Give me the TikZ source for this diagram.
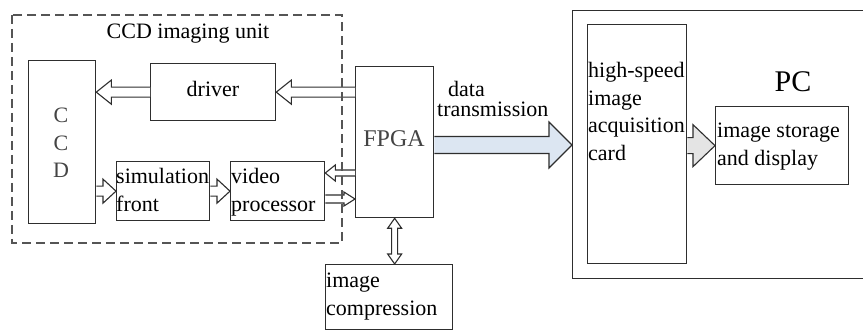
\documentclass[tikz,border=0pt]{standalone}
\usepackage{fontspec}
\setmainfont{Liberation Serif}
\usetikzlibrary{calc}
\definecolor{linec}{HTML}{2E2E2E}
\definecolor{dashc}{HTML}{555555}
\definecolor{bluef}{HTML}{DCE6F2}
\definecolor{grayf}{HTML}{E4E4E4}
\definecolor{txtg}{HTML}{444444}
% block arrow: from, to, shaft half width, head half width, head length, style
\newcommand{\barrow}[6]{%
  \filldraw[#6] let \p1=(#1), \p2=(#2),
    \n1={veclen(\x2-\x1,\y2-\y1)},
    \n2={(\x2-\x1)/\n1}, \n3={(\y2-\y1)/\n1} in
    ({\x1-#3*\n3},{\y1+#3*\n2}) --
    ({\x2-#5*\n2-#3*\n3},{\y2-#5*\n3+#3*\n2}) --
    ({\x2-#5*\n2-#4*\n3},{\y2-#5*\n3+#4*\n2}) --
    (\p2) --
    ({\x2-#5*\n2+#4*\n3},{\y2-#5*\n3-#4*\n2}) --
    ({\x2-#5*\n2+#3*\n3},{\y2-#5*\n3-#3*\n2}) --
    ({\x1+#3*\n3},{\y1-#3*\n2});%
}
\begin{document}
\begin{tikzpicture}[x=1pt,y=-1pt,
  box/.style={draw=linec, line width=1.3pt, inner sep=0pt, anchor=north west, fill=white},
  txt/.style={font=\fontsize{22}{27.5}\selectfont, inner sep=0pt, align=left},
  arr/.style={draw=linec, line width=1.1pt, fill=white, line join=miter}]
\fill[white] (0,0) rectangle (863,331);
\useasboundingbox (0,0) rectangle (863,331);

% boxes
\node[box, minimum width=67pt, minimum height=163pt] (ccd) at (28,60) {};
\node[box, minimum width=125pt, minimum height=57pt] (driver) at (150,63) {};
\node[box, minimum width=93pt, minimum height=59pt] (sim) at (116,161) {};
\node[box, minimum width=94pt, minimum height=59pt] (video) at (230,161) {};
\node[box, minimum width=78pt, minimum height=151pt] (fpga) at (355,66) {};
\node[box, minimum width=127pt, minimum height=65pt] (comp) at (325,264) {};
\node[box, minimum width=300pt, minimum height=268pt] (pc) at (572,10) {};
\node[box, minimum width=99pt, minimum height=239pt] (card) at (587,24) {};
\node[box, minimum width=133pt, minimum height=78pt] (storage) at (715,106) {};

% texts (base anchor = baseline of the last line)
\node[txt, anchor=base] (title) at (188,39) {CCD imaging unit};
\node[txt, anchor=base, align=center, text=txtg] (ccdt) at (61,178) {C\\C\\D};
\node[txt, anchor=base] (drivert) at (213,97) {driver};
\node[txt, anchor=base west] (simt) at (116,211.5) {simulation\\front};
\node[txt, anchor=base west] (videot) at (231,211.5) {video\\processor};
\node[txt, anchor=base, font=\fontsize{24}{28}\selectfont, text=txtg] (fpgat) at (394,147) {FPGA};
\node[txt, anchor=base west] (datat) at (448,97) {data};
\node[txt, anchor=base west] (transt) at (437,117) {transmission};
\node[txt, anchor=base west] (compt) at (326,315.5) {image\\compression};
\node[txt, anchor=base west] (cardt) at (588,160.5) {high-speed\\image\\acquisition\\card};
\node[txt, anchor=base, font=\fontsize{30}{34}\selectfont] (pct) at (793,92) {PC};
\node[txt, anchor=base west] (storaget) at (717,165.5) {image storage\\and display};

% helper coordinates
\coordinate (v1) at ($(video.north east)+(0,12)$);
\coordinate (v2) at ($(video.north east)+(0,38)$);
\coordinate (d1) at ($(fpga.north east)+(0,79)$);
\coordinate (m) at ($(fpga.south)!0.5!(fpga.south |- comp.north)$);

% connectors
\barrow{fpga.west |- driver.east}{driver.east}{5}{12}{15}{arr}
\barrow{driver.west}{ccd.east |- driver.west}{5}{12}{15}{arr}
\barrow{ccd.east |- sim.west}{sim.west}{5}{12}{13}{arr}
\barrow{sim.east}{video.west}{5}{12}{13}{arr}
\barrow{fpga.west |- v1}{v1}{3}{8}{10}{arr}
\barrow{v2}{fpga.west |- v2}{4}{7}{11}{arr}
\barrow{d1}{pc.west |- d1}{8.5}{23}{23}{arr, fill=bluef}
\barrow{card.east |- storage.west}{storage.west}{8}{21}{22}{arr, fill=grayf}
\barrow{m}{fpga.south}{3}{7}{10}{arr}
\barrow{m}{fpga.south |- comp.north}{3}{7}{10}{arr}

% dashed group
\draw[dashc, line width=1.5pt, dash pattern=on 9pt off 5pt] (12,15) rectangle (342,243);
\end{tikzpicture}
\end{document}
